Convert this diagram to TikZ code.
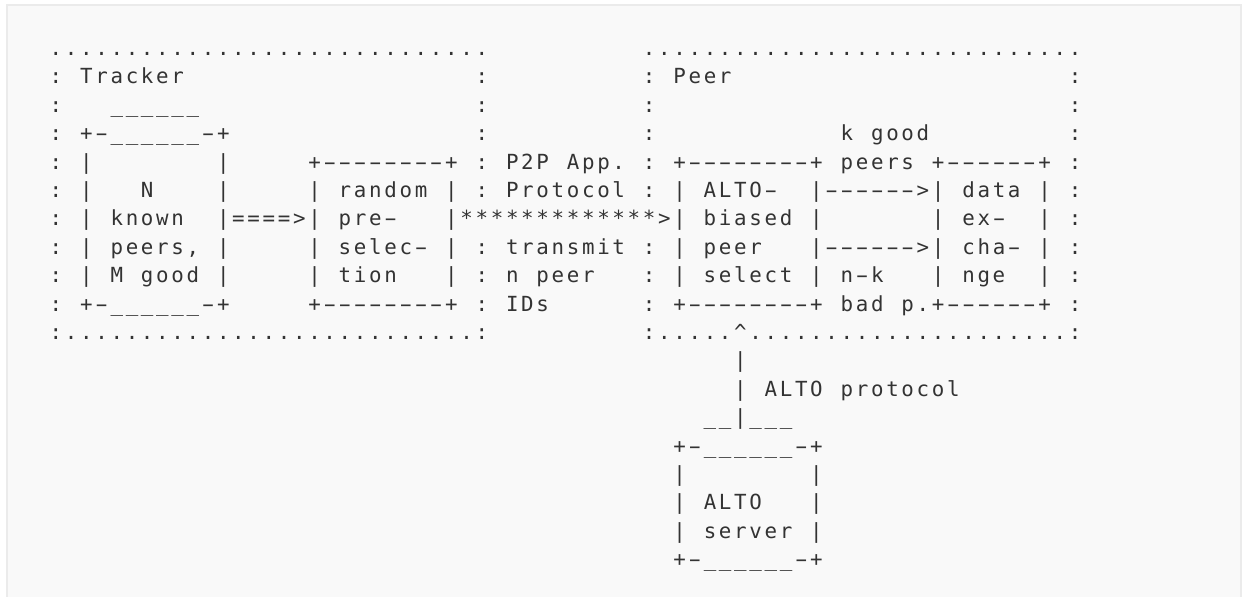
\documentclass[tikz,border=0pt]{standalone}
\usepackage{fontspec}
\usepackage{graphicx}
\usepackage{tikz}
\newfontfamily\asciifont{DejaVu Sans Mono}
\definecolor{ink}{HTML}{333333}
\definecolor{paper}{HTML}{F9F9F9}
\definecolor{rule}{HTML}{EBEBEB}
% one character cell of the text grid
\newlength\cellw
\setlength\cellw{7.605pt}
\newcommand\cellbox[1]{\makebox[\cellw][c]{#1}}
\def\gridstop{gridstop}
\def\gridline#1{\gridscan#1\gridstop}
% hyphens are drawn wider, as in the reference face
\def\gridscan#1{\ifx#1\gridstop\else
  \ifx#1-\cellbox{\scalebox{1.8}[1]{-}}\else\cellbox{#1}\fi
  \expandafter\gridscan\fi}
\tikzset{
  codeframe/.style={draw=rule, line width=1.3pt, fill=paper},
  asciirow/.style={anchor=base west, inner sep=0pt, outer sep=0pt, text=ink,
    font=\asciifont\fontsize{10.4pt}{12pt}\selectfont}
}

\begin{document}
\begin{tikzpicture}[x=0.5pt,y=-0.5pt]
  \useasboundingbox (0,0) rectangle (1243,596);
  \fill[white] (0,0) rectangle (1243,596);
  \draw[codeframe] (7,5) rectangle (1241,620);

  % Tracker and Peer frames
  \node[asciirow] (row0) at (48.4,55.5)
    {\gridline{.............................~~~~~~~~~~.............................}};
  \node[asciirow] (row1) at (48.4,83.9)
    {\gridline{:~Tracker~~~~~~~~~~~~~~~~~~~:~~~~~~~~~~:~Peer~~~~~~~~~~~~~~~~~~~~~~:}};
  \node[asciirow] (row2) at (48.4,112.3)
    {\gridline{:~~~\_\_\_\_\_\_~~~~~~~~~~~~~~~~~~:~~~~~~~~~~:~~~~~~~~~~~~~~~~~~~~~~~~~~~:}};
  \node[asciirow] (row3) at (48.4,140.7)
    {\gridline{:~+-\_\_\_\_\_\_-+~~~~~~~~~~~~~~~~:~~~~~~~~~~:~~~~~~~~~~~~k~good~~~~~~~~~:}};
  \node[asciirow] (row4) at (48.4,169.1)
    {\gridline{:~|~~~~~~~~|~~~~~+--------+~:~P2P~App.~:~+--------+~peers~+------+~:}};
  \node[asciirow] (row5) at (48.4,197.5)
    {\gridline{:~|~~~N~~~~|~~~~~|~random~|~:~Protocol~:~|~ALTO-~~|------>|~data~|~:}};
  \node[asciirow] (row6) at (48.4,225.9)
    {\gridline{:~|~known~~|====>|~pre-~~~|*************>|~biased~|~~~~~~~|~ex-~~|~:}};
  \node[asciirow] (row7) at (48.4,254.3)
    {\gridline{:~|~peers,~|~~~~~|~selec-~|~:~transmit~:~|~peer~~~|------>|~cha-~|~:}};
  \node[asciirow] (row8) at (48.4,282.7)
    {\gridline{:~|~M~good~|~~~~~|~tion~~~|~:~n~peer~~~:~|~select~|~n-k~~~|~nge~~|~:}};
  \node[asciirow] (row9) at (48.4,311.1)
    {\gridline{:~+-\_\_\_\_\_\_-+~~~~~+--------+~:~IDs~~~~~~:~+--------+~bad~p.+------+~:}};
  \node[asciirow] (row10) at (48.4,339.5)
    {\gridline{:...........................:~~~~~~~~~~:.....\textasciicircum.....................:}};

  % ALTO protocol link and server
  \node[asciirow] (row11) at (732.85,367.9) {\gridline{|}};
  \node[asciirow] (row12) at (732.85,396.3) {\gridline{|~ALTO~protocol}};
  \node[asciirow] (row13) at (702.4,424.7) {\gridline{\_\_|\_\_\_}};
  \node[asciirow] (row14) at (672.0,453.1) {\gridline{+-\_\_\_\_\_\_-+}};
  \node[asciirow] (row15) at (672.0,481.5) {\gridline{|~~~~~~~~|}};
  \node[asciirow] (row16) at (672.0,509.9) {\gridline{|~ALTO~~~|}};
  \node[asciirow] (row17) at (672.0,538.3) {\gridline{|~server~|}};
  \node[asciirow] (row18) at (672.0,566.7) {\gridline{+-\_\_\_\_\_\_-+}};
\end{tikzpicture}
\end{document}
